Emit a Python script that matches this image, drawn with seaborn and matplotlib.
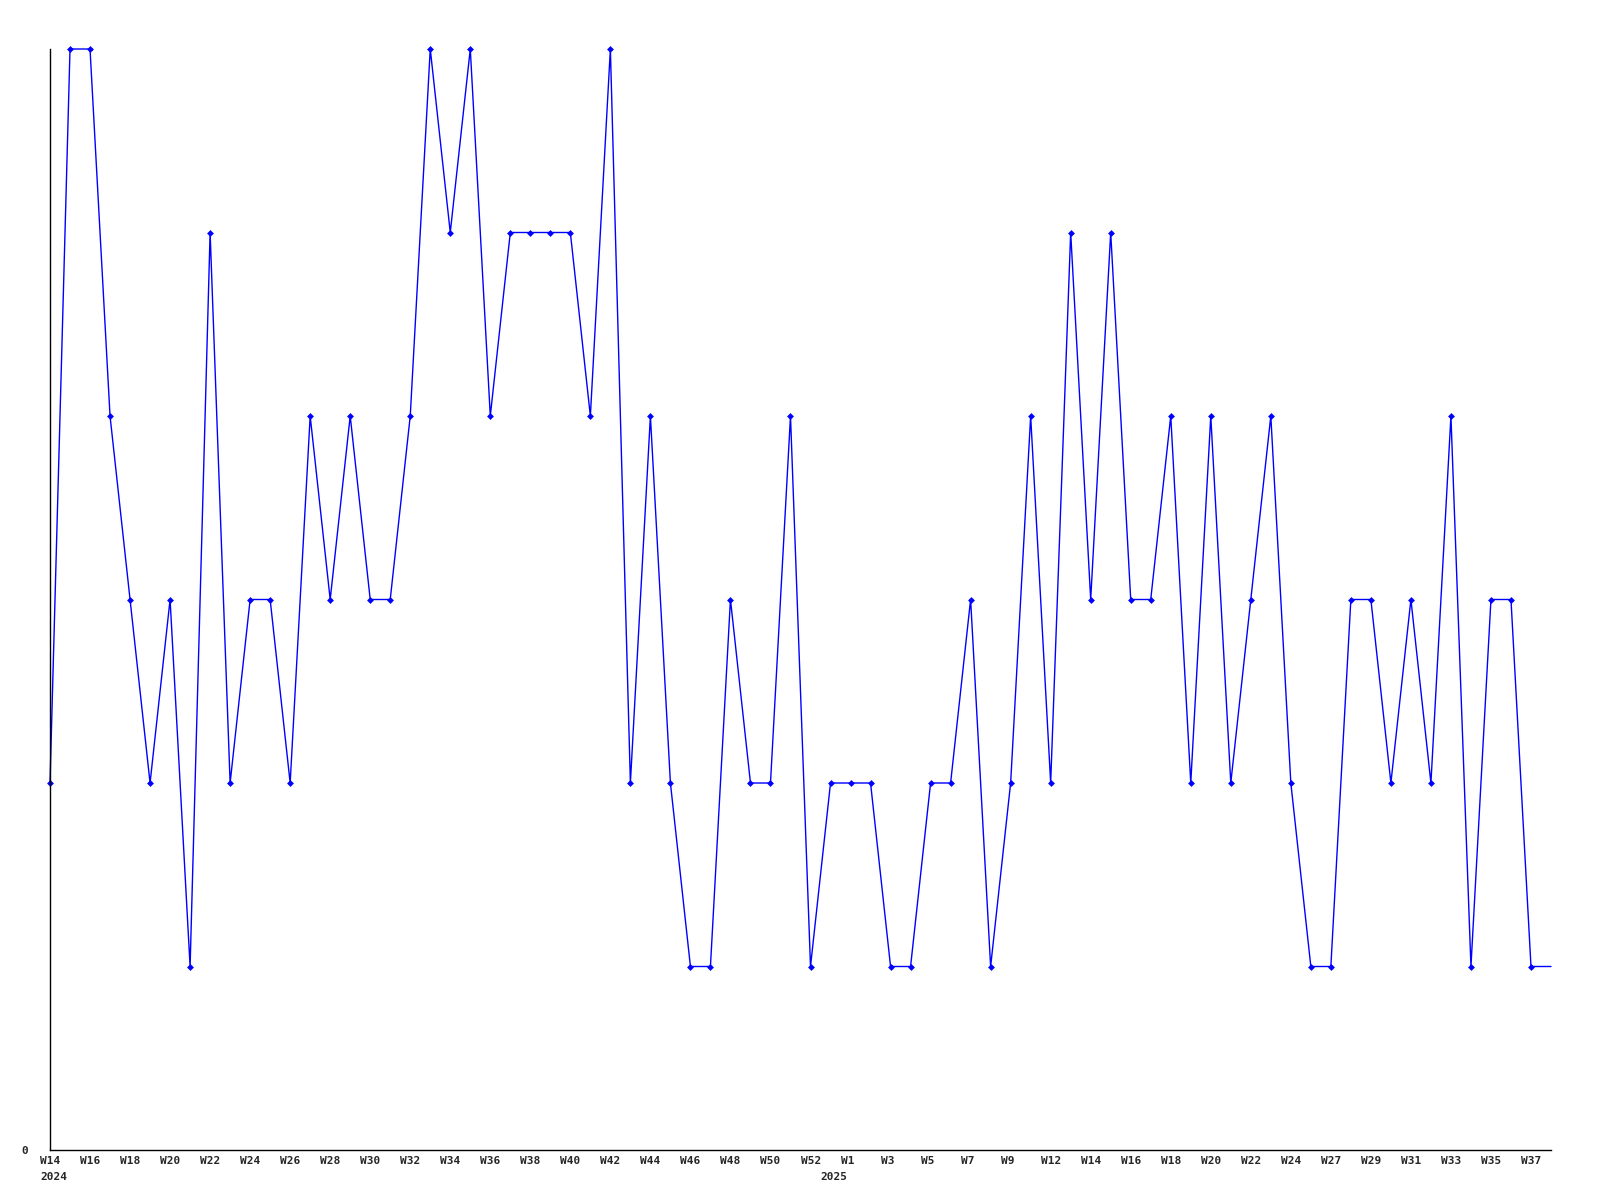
import numpy as np
import matplotlib
matplotlib.use("Agg")
import matplotlib.pyplot as plt
import matplotlib.transforms as mtransforms
import seaborn as sns

# weekly counts, one per point (last point is the open week, drawn without marker)
counts = [2, 6, 6, 4, 3, 2, 3, 1, 5, 2,
          3, 3, 2, 4, 3, 4, 3, 3, 4, 6,
          5, 6, 4, 5, 5, 5, 5, 4, 6, 2,
          4, 2, 1, 1, 3, 2, 2, 4, 1, 2,
          2, 2, 1, 1, 2, 2, 3, 1, 2, 4,
          2, 5, 3, 5, 3, 3, 4, 2, 4, 2,
          3, 4, 2, 1, 1, 3, 3, 2, 3, 2,
          4, 1, 3, 3, 1, 1]

# labels shown under every other point
week_labels = ['W14', 'W16', 'W18', 'W20', 'W22', 'W24', 'W26', 'W28', 'W30', 'W32',
               'W34', 'W36', 'W38', 'W40', 'W42', 'W44', 'W46', 'W48', 'W50', 'W52',
               'W1', 'W3', 'W5', 'W7', 'W9', 'W12', 'W14', 'W16', 'W18', 'W20',
               'W22', 'W24', 'W27', 'W29', 'W31', 'W33', 'W35', 'W37']
label_every = 2

# year markers: (point index, year)
years = [(0, '2024'), (39, '2025')]

x = np.arange(len(counts))

sns.set_style("white")
plt.rcParams['font.family'] = ['DejaVu Sans Mono']
plt.rcParams['font.weight'] = 'bold'

fig = plt.figure(figsize=(16, 12), dpi=100)
ax = fig.add_axes([50 / 1600, 50 / 1200, 1501 / 1600, 1101 / 1200])

sns.lineplot(x=x, y=counts, ax=ax, color='#0000ff', linewidth=1,
             marker='D', markersize=3.5, markeredgewidth=0,
             markevery=list(range(len(counts) - 1)), clip_on=False)

ax.set_xlim(0, len(counts) - 1)
ax.set_ylim(0, max(counts))

for side in ['top', 'right']:
    ax.spines[side].set_visible(False)
for side in ['left', 'bottom']:
    ax.spines[side].set_color('black')
    ax.spines[side].set_linewidth(1)

ax.set_yticks([0])
ax.set_yticklabels(['0'], fontsize=8, fontweight='bold')
ax.tick_params(axis='y', length=0, pad=16)

ticks = x[::label_every][:len(week_labels)]
ax.set_xticks(ticks)
ax.set_xticklabels(week_labels, fontsize=8, fontweight='bold')
ax.tick_params(axis='x', length=0, pad=4.5)
offset = mtransforms.ScaledTranslation(-10 / 100, 0, fig.dpi_scale_trans)
for lab in ax.get_xticklabels():
    lab.set_horizontalalignment('left')
    lab.set_transform(lab.get_transform() + offset)

for idx, yr in years:
    ax.annotate(yr, xy=(idx, 0), xycoords=('data', 'axes fraction'),
                xytext=(-10, -22), textcoords='offset pixels',
                ha='left', va='top', fontsize=8, fontweight='bold')

ax.set_xlabel('')
ax.set_ylabel('')

fig.savefig('out.png', dpi=100, facecolor='white')
